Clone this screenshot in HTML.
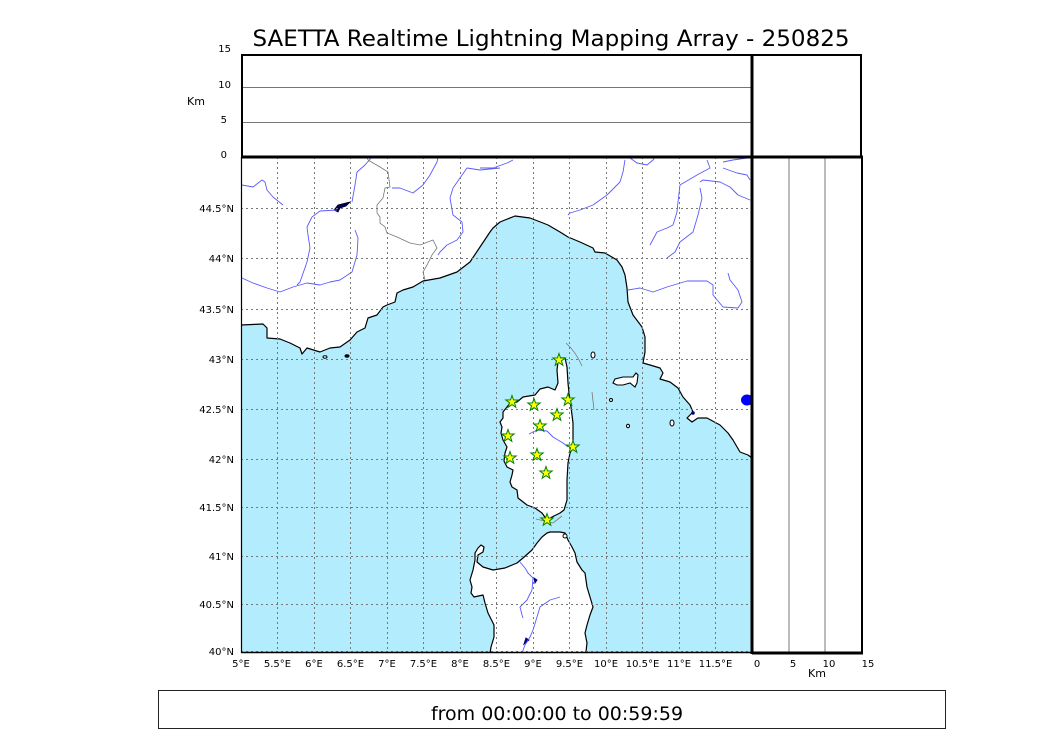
<!DOCTYPE html>
<html><head><meta charset="utf-8"><style>
html,body{margin:0;padding:0;background:#fff;}
svg{display:block;}
text{font-family:"DejaVu Sans","Liberation Sans",sans-serif;fill:#000;}
</style></head><body>
<svg width="1050" height="750" viewBox="0 0 1050 750" xmlns="http://www.w3.org/2000/svg">
<rect x="0" y="0" width="1050" height="750" fill="#fff"/>
<text x="551" y="46" font-size="22" text-anchor="middle" textLength="597" lengthAdjust="spacingAndGlyphs">SAETTA Realtime Lightning Mapping Array - 250825</text>

<!-- top panel -->
<line x1="241" y1="87.5" x2="752" y2="87.5" stroke="#777" stroke-width="1"/>
<line x1="241" y1="122.5" x2="752" y2="122.5" stroke="#777" stroke-width="1"/>
<rect x="242" y="55" width="619" height="102" fill="none" stroke="#000" stroke-width="2"/>
<g font-size="10" text-anchor="end">
<text x="231" y="52">15</text><text x="231" y="88">10</text><text x="227" y="123">5</text><text x="227" y="158">0</text>
</g>
<text x="196" y="105" font-size="11" text-anchor="middle">Km</text>

<!-- map -->
<defs><clipPath id="mc"><rect x="241" y="157" width="511" height="496"/></clipPath></defs>
<g clip-path="url(#mc)">
<rect x="241" y="157" width="511" height="496" fill="#b3ecfc"/>
<!-- mainland -->
<path d="M241,325 L263,324 L267,328 L267,338 L280,339 L290,343 L300,348 L302,354 L307,348 L320,352 L330,348 L340,347 L350,340 L357,332 L365,328 L368,318 L377,315 L383,307 L387,305 L395,302 L397,293 L403,290 L413,287 L423,281 L440,278 L457,272 L470,262 L480,247 L490,232 L493,228 L500,222 L515,216 L530,218 L543,223 L548,225 L560,232 L568,237 L580,242 L593,248 L595,252 L605,253 L617,260 L622,267 L625,275 L627,288 L628,302 L633,315 L642,327 L645,337 L645,352 L643,363 L650,365 L660,368 L663,373 L660,379 L670,382 L678,388 L683,397 L690,405 L693,412 L690,415 L687,418 L692,422 L698,418 L707,418 L720,425 L728,433 L733,440 L740,452 L748,455 L752,458 L760,458 L760,150 L235,150 L235,325 Z" fill="#fff" stroke="#000" stroke-width="1.2" stroke-linejoin="round"/>
<!-- Corsica -->
<path d="M558,358 L565,358 L567,367 L568,383 L569,393 L571,407 L573,423 L573,447 L570,453 L568,463 L567,480 L567,500 L564,510 L560,513 L552,517 L547,520 L542,513 L535,508 L527,505 L518,498 L517,490 L512,487 L510,482 L512,475 L513,470 L507,467 L504,461 L505,453 L507,447 L503,440 L501,433 L502,427 L500,422 L503,418 L503,412 L507,407 L510,403 L517,402 L523,397 L535,395 L540,389 L548,387 L555,390 L558,383 L557,370 L558,362 Z" fill="#fff" stroke="#000" stroke-width="1.2" stroke-linejoin="round"/>
<!-- Sardinia -->
<path d="M547,533 L550,532 L560,532 L565,533 L568,540 L572,547 L575,553 L577,562 L582,570 L585,573 L587,587 L590,597 L593,607 L590,615 L587,625 L585,633 L587,643 L585,660 L489,660 L491,647 L494,637 L494,625 L488,613 L485,603 L483,595 L474,597 L471,593 L472,587 L470,580 L473,570 L475,560 L475,553 L478,548 L481,545 L484,547 L483,552 L478,555 L477,562 L483,567 L493,570 L505,568 L517,563 L523,558 L532,550 L537,543 L542,537 Z" fill="#fff" stroke="#000" stroke-width="1.2" stroke-linejoin="round"/>
<!-- islands -->
<path d="M613,383 L615,379 L623,377 L633,377 L636,373 L638,375 L637,383 L635,387 L630,383 L623,385 L617,385 Z" fill="#fff" stroke="#000" stroke-width="1.1"/>
<ellipse cx="593" cy="355" rx="2" ry="3" fill="#fff" stroke="#000" stroke-width="1"/>
<ellipse cx="611" cy="400" rx="1.5" ry="1.5" fill="#fff" stroke="#000" stroke-width="1"/>
<ellipse cx="628" cy="426" rx="1.5" ry="1.8" fill="#fff" stroke="#000" stroke-width="1"/>
<ellipse cx="672" cy="423" rx="2" ry="3" fill="#fff" stroke="#000" stroke-width="1"/>
<ellipse cx="565" cy="536" rx="2" ry="2" fill="#fff" stroke="#000" stroke-width="1"/>
<ellipse cx="325" cy="357" rx="2" ry="1.2" fill="#fff" stroke="#000" stroke-width="1"/>
<ellipse cx="347" cy="356" rx="2" ry="1.2" fill="#000" stroke="#000" stroke-width="1"/>
<!-- lakes -->
<path d="M334,210 L338,205 L350,202 L346,206 L340,208 L338,212 Z" fill="#000066" stroke="#000" stroke-width="0.8"/>
<ellipse cx="747" cy="400" rx="6" ry="5.5" fill="#0000ff"/>
<circle cx="693" cy="413" r="1.8" fill="#000080"/>
<path d="M534,578 L537,580 L535,583 Z" fill="#000080" stroke="#000080"/>
<path d="M526,638 L529,640 L524,644 Z" fill="#000080" stroke="#000080"/>
<!-- rivers -->
<g fill="none" stroke="#5a5aff" stroke-width="0.9" stroke-linejoin="round">
<path d="M242,185 L253,187 L262,180 L265,182 L267,190 L273,197 L283,205"/>
<path d="M372,157 L365,165 L357,172 L355,185 L352,202 M337,210 L320,211 L312,217 L307,227 L308,235 L310,248 L307,262 L300,282 L297,285"/>
<path d="M242,278 L253,283 L267,288 L280,292 L293,287 L307,283 L320,285 L330,282 L340,280 L352,272 L357,255 L358,238 L355,230"/>
<path d="M392,188 L400,188 L413,193 L423,185 L430,175 L437,162 L438,157"/>
<path d="M500,168 L480,170 L467,168 L453,188 L450,198 L453,215 L462,222 L463,232 L457,240 L447,245 L440,252 L438,255"/>
<path d="M480,168 L493,168 L507,163 L513,160"/>
<path d="M625,160 L623,172 L620,182 L607,195 L593,205 L580,210 L570,213 L568,215"/>
<path d="M630,158 L637,163 L647,165 L653,160 L655,157"/>
<path d="M707,160 L710,168 L697,175 L680,185 L678,202 L677,212 L673,225 L667,228 L657,232 L650,245"/>
<path d="M700,182 L703,180 L720,182 L730,187 L738,195 L750,200"/>
<path d="M700,188 L702,198 L698,215 L693,232 L680,242 L675,252 L667,258"/>
<path d="M723,162 L733,160 L747,158 M723,168 L737,173 L747,175 L750,180"/>
<path d="M628,290 L640,288 L653,292 L667,287 L687,281 L707,281 L713,285 L713,295 L723,307 L738,308 L742,302 L738,290 L730,280 L728,273"/>
<path d="M529,434 L537,430 L547,431 L553,437 L563,443 L568,447"/>
<path d="M520,562 L525,568 L528,573 L533,578 L532,590 L527,600 L520,607 L522,615 L523,618"/>
<path d="M560,597 L550,600 L540,607 L537,617 L533,630 L530,637 L525,645 L522,653"/>
</g>
<!-- borders / gray lines -->
<g fill="none" stroke="#777" stroke-width="0.8">
<path d="M368,160 L380,167 L388,172 L390,187 L385,188 L383,198 L377,205 L377,213 L380,217 L380,223 L385,227 L387,233 L397,237 L410,243 L420,245 L433,240 L437,248 L432,255 L427,265 L423,272 L425,280"/>
<path d="M367,157 L368,160"/>
<path d="M566,343 Q576,352 582,366"/>
<path d="M592,392 L594,410"/>
<path d="M536,519 L553,523 L562,516"/>
</g>
<!-- grid -->
<g stroke="#777" stroke-width="1" stroke-dasharray="2,3" fill="none" shape-rendering="crispEdges">
<path d="M277.5,157V653M314.5,157V653M350.5,157V653M387.5,157V653M423.5,157V653M460.5,157V653M496.5,157V653M533.5,157V653M569.5,157V653M606.5,157V653M642.5,157V653M679.5,157V653M715.5,157V653"/>
<path d="M241,208.5H752M241,258.5H752M241,309.5H752M241,359.5H752M241,409.5H752M241,459.5H752M241,507.5H752M241,556.5H752M241,604.5H752M241,651.5H752"/>
</g>
<!-- stars -->
<g fill="#ffff00" stroke="#008000" stroke-width="1" stroke-linejoin="miter">
<polygon transform="translate(559,360)" points="0,-6.5 1.53,-2.1 6.18,-2.01 2.47,0.8 3.82,5.26 0,2.6 -3.82,5.26 -2.47,0.8 -6.18,-2.01 -1.53,-2.1"/>
<polygon transform="translate(512,402)" points="0,-6.5 1.53,-2.1 6.18,-2.01 2.47,0.8 3.82,5.26 0,2.6 -3.82,5.26 -2.47,0.8 -6.18,-2.01 -1.53,-2.1"/>
<polygon transform="translate(534,405)" points="0,-6.5 1.53,-2.1 6.18,-2.01 2.47,0.8 3.82,5.26 0,2.6 -3.82,5.26 -2.47,0.8 -6.18,-2.01 -1.53,-2.1"/>
<polygon transform="translate(568,400)" points="0,-6.5 1.53,-2.1 6.18,-2.01 2.47,0.8 3.82,5.26 0,2.6 -3.82,5.26 -2.47,0.8 -6.18,-2.01 -1.53,-2.1"/>
<polygon transform="translate(557,415)" points="0,-6.5 1.53,-2.1 6.18,-2.01 2.47,0.8 3.82,5.26 0,2.6 -3.82,5.26 -2.47,0.8 -6.18,-2.01 -1.53,-2.1"/>
<polygon transform="translate(540,426)" points="0,-6.5 1.53,-2.1 6.18,-2.01 2.47,0.8 3.82,5.26 0,2.6 -3.82,5.26 -2.47,0.8 -6.18,-2.01 -1.53,-2.1"/>
<polygon transform="translate(508,436)" points="0,-6.5 1.53,-2.1 6.18,-2.01 2.47,0.8 3.82,5.26 0,2.6 -3.82,5.26 -2.47,0.8 -6.18,-2.01 -1.53,-2.1"/>
<polygon transform="translate(573,447)" points="0,-6.5 1.53,-2.1 6.18,-2.01 2.47,0.8 3.82,5.26 0,2.6 -3.82,5.26 -2.47,0.8 -6.18,-2.01 -1.53,-2.1"/>
<polygon transform="translate(510,458)" points="0,-6.5 1.53,-2.1 6.18,-2.01 2.47,0.8 3.82,5.26 0,2.6 -3.82,5.26 -2.47,0.8 -6.18,-2.01 -1.53,-2.1"/>
<polygon transform="translate(537,455)" points="0,-6.5 1.53,-2.1 6.18,-2.01 2.47,0.8 3.82,5.26 0,2.6 -3.82,5.26 -2.47,0.8 -6.18,-2.01 -1.53,-2.1"/>
<polygon transform="translate(546,473)" points="0,-6.5 1.53,-2.1 6.18,-2.01 2.47,0.8 3.82,5.26 0,2.6 -3.82,5.26 -2.47,0.8 -6.18,-2.01 -1.53,-2.1"/>
<polygon transform="translate(547,520)" points="0,-6.5 1.53,-2.1 6.18,-2.01 2.47,0.8 3.82,5.26 0,2.6 -3.82,5.26 -2.47,0.8 -6.18,-2.01 -1.53,-2.1"/>
</g>
</g>
<!-- map frame -->
<line x1="241.5" y1="157" x2="241.5" y2="653" stroke="#000" stroke-width="1.2"/>
<line x1="241" y1="652.5" x2="752" y2="652.5" stroke="#000" stroke-width="1.5"/>

<!-- right panel -->
<line x1="789" y1="157" x2="789" y2="653" stroke="#777" stroke-width="1"/>
<line x1="825" y1="157" x2="825" y2="653" stroke="#777" stroke-width="1"/>
<line x1="752" y1="653" x2="863" y2="653" stroke="#000" stroke-width="3"/>
<line x1="862" y1="157" x2="862" y2="654" stroke="#000" stroke-width="2"/>
<line x1="752" y1="54" x2="752" y2="654" stroke="#000" stroke-width="3"/>
<line x1="241" y1="157" x2="863" y2="157" stroke="#000" stroke-width="3"/>

<!-- lat labels -->
<g font-size="10" text-anchor="end">
<text x="234" y="212">44.5°N</text>
<text x="234" y="262">44°N</text>
<text x="234" y="313">43.5°N</text>
<text x="234" y="363">43°N</text>
<text x="234" y="413">42.5°N</text>
<text x="234" y="463">42°N</text>
<text x="234" y="511">41.5°N</text>
<text x="234" y="560">41°N</text>
<text x="234" y="608">40.5°N</text>
<text x="234" y="655">40°N</text>
</g>
<!-- lon labels -->
<g font-size="10" text-anchor="middle">
<text x="241" y="667">5°E</text>
<text x="277.5" y="667">5.5°E</text>
<text x="314" y="667">6°E</text>
<text x="350.5" y="667">6.5°E</text>
<text x="387" y="667">7°E</text>
<text x="423.5" y="667">7.5°E</text>
<text x="460" y="667">8°E</text>
<text x="496.5" y="667">8.5°E</text>
<text x="533" y="667">9°E</text>
<text x="569.5" y="667">9.5°E</text>
<text x="606" y="667">10°E</text>
<text x="642.5" y="667">10.5°E</text>
<text x="679" y="667">11°E</text>
<text x="715.5" y="667">11.5°E</text>
<text x="757" y="667">0</text>
<text x="793" y="667">5</text>
<text x="829" y="667">10</text>
<text x="868" y="667">15</text>
</g>
<text x="817" y="677" font-size="11" text-anchor="middle">Km</text>

<!-- bottom box -->
<rect x="158.5" y="690.5" width="787" height="38" fill="#fff" stroke="#222" stroke-width="1"/>
<text x="557" y="720" font-size="19" text-anchor="middle">from 00:00:00 to 00:59:59</text>
</svg>
</body></html>
